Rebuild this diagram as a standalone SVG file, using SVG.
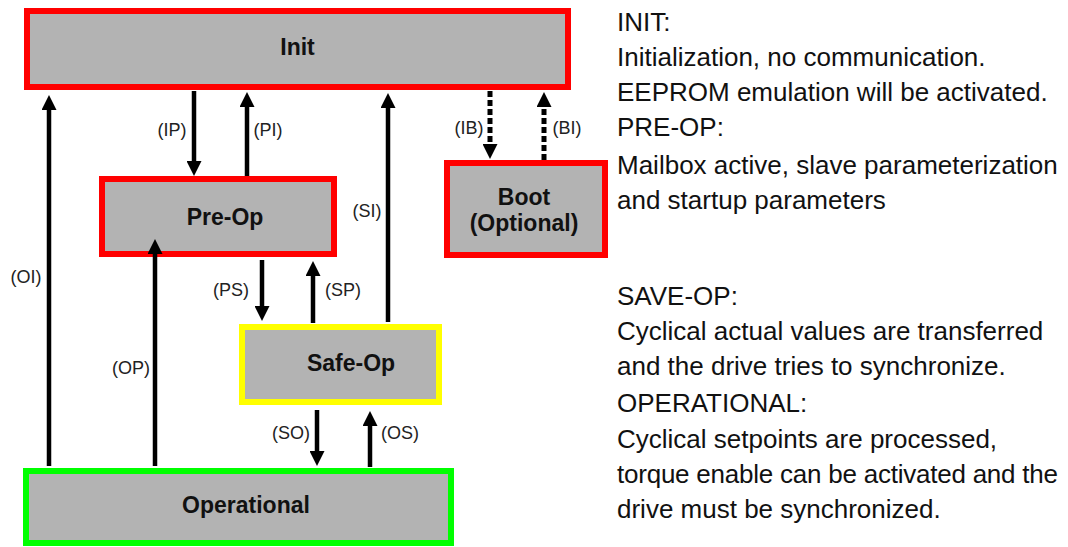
<svg xmlns="http://www.w3.org/2000/svg" width="1068" height="547" viewBox="0 0 1068 547">
<style>
.box{fill:#b3b3b3;stroke-width:6}
.red{stroke:#ff0000}
.yellow{stroke:#ffff00}
.green{stroke:#00ff00}
.bl{font-family:"Liberation Sans",Arial,sans-serif;font-weight:bold;font-size:23px;fill:#111;text-anchor:middle}
.lbl{font-family:"Liberation Sans",Arial,sans-serif;font-size:18px;fill:#222;text-anchor:middle}
.desc{font-family:"Liberation Sans",Arial,sans-serif;font-size:26px;fill:#111}
.arr{stroke:#000;stroke-width:4.5;fill:none;marker-end:url(#ah)}
.dash{stroke-width:5;stroke-dasharray:6 3}
</style>
<defs>
<marker id="ah" viewBox="0 0 15 15" refX="4" refY="7.5" markerWidth="15" markerHeight="15" markerUnits="userSpaceOnUse" orient="auto">
<path d="M0,0 L15,7.5 L0,15 z" fill="#000"/>
</marker>
</defs>
<rect width="1068" height="547" fill="#fff"/>
<g id="init"><rect class="box red" x="27" y="11" width="541" height="76"/><text class="bl" x="297.5" y="55">Init</text></g>
<g id="preop"><rect class="box red" x="102" y="179" width="232" height="75"/><text class="bl" x="225" y="225">Pre-Op</text></g>
<g id="boot"><rect class="box red" x="447" y="163" width="158" height="92"/><text class="bl" x="524" y="205">Boot</text><text class="bl" x="524" y="231">(Optional)</text></g>
<g id="safeop"><rect class="box yellow" x="242" y="327" width="197" height="75"/><text class="bl" x="351" y="371">Safe-Op</text></g>
<g id="operational"><rect class="box green" x="26" y="471" width="425" height="72"/><text class="bl" x="246" y="513">Operational</text></g>
<g id="connectors">
<line class="arr" x1="194" y1="91" x2="194" y2="165"/>
<line class="arr" x1="247" y1="176" x2="247" y2="103"/>
<line class="arr" x1="49" y1="466" x2="49" y2="106"/>
<line class="arr" x1="155" y1="466" x2="155" y2="250"/>
<line class="arr" x1="262" y1="260" x2="262" y2="310"/>
<line class="arr" x1="313" y1="323" x2="313" y2="272"/>
<line class="arr" x1="388" y1="322" x2="388" y2="104"/>
<line class="arr dash" x1="490" y1="91" x2="490" y2="148"/>
<line class="arr dash" x1="544" y1="160" x2="544" y2="103"/>
<line class="arr" x1="317" y1="410" x2="317" y2="455"/>
<line class="arr" x1="370" y1="467" x2="370" y2="422"/>
<text class="lbl" x="172" y="136">(IP)</text>
<text class="lbl" x="268" y="136">(PI)</text>
<text class="lbl" x="469" y="134">(IB)</text>
<text class="lbl" x="567" y="134">(BI)</text>
<text class="lbl" x="367" y="217">(SI)</text>
<text class="lbl" x="26" y="283">(OI)</text>
<text class="lbl" x="131" y="374">(OP)</text>
<text class="lbl" x="231" y="296">(PS)</text>
<text class="lbl" x="343" y="296">(SP)</text>
<text class="lbl" x="291" y="439">(SO)</text>
<text class="lbl" x="400" y="439">(OS)</text>
</g>
<g id="description" class="desc">
<text x="617" y="31">INIT:</text>
<text x="617" y="66">Initialization, no communication.</text>
<text x="617" y="101">EEPROM emulation will be activated.</text>
<text x="617" y="136">PRE-OP:</text>
<text x="617" y="174">Mailbox active, slave parameterization</text>
<text x="617" y="209">and startup parameters</text>
<text x="617" y="305">SAVE-OP:</text>
<text x="617" y="340">Cyclical actual values are transferred</text>
<text x="617" y="375">and the drive tries to synchronize.</text>
<text x="617" y="412">OPERATIONAL:</text>
<text x="617" y="448">Cyclical setpoints are processed,</text>
<text x="617" y="483" textLength="441" lengthAdjust="spacing">torque enable can be activated and the</text>
<text x="617" y="518">drive must be synchronized.</text>
</g>
</svg>
